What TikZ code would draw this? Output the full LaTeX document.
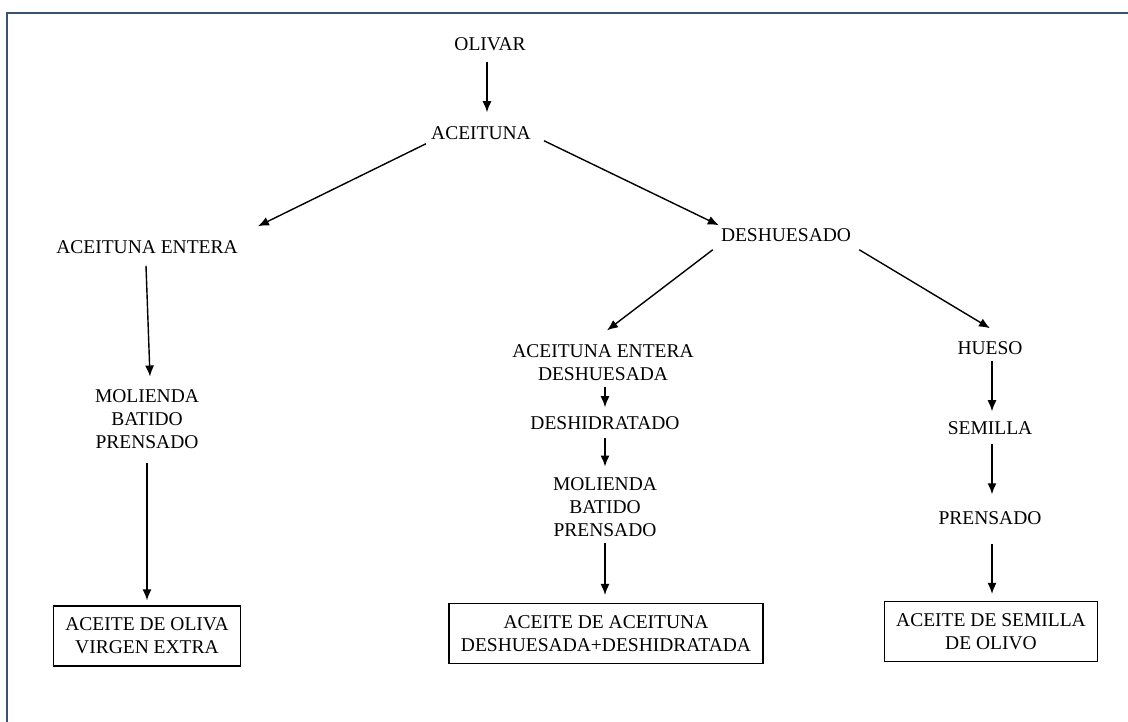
\documentclass[tikz,border=0pt]{standalone}
\usepackage{fontspec}
\setmainfont{Liberation Serif}
\usepackage{tikz}
\usetikzlibrary{calc,arrows.meta}
\definecolor{framecol}{HTML}{3C5070}

\begin{document}
\begin{tikzpicture}[x=1pt,y=-1pt,
    txt/.style={inner sep=0pt,align=center,font=\fontsize{19.5}{22.7}\selectfont},
    oilbox/.style={txt,draw,line width=1.3pt,inner xsep=12pt,inner ysep=12pt},
    arr/.style={line width=1.4pt,-{Latex[length=11pt,width=9pt]}}]
                      \useasboundingbox(0,0)rectangle(1128,722);
                      \draw[framecol,line width=2.8pt](7,722)--(7,13)--(1128,13);
                      % top
                      \node[txt](olivar)at(490,44){OLIVAR};
                      \node[txt](aceituna)at(481,133){ACEITUNA};
                      \node[txt](entera)at(147,247){ACEITUNA ENTERA};
                      \node[txt](deshuesado)at(786,235){DESHUESADO};
                      % left column
                      \node[txt](molA)at(147,419){MOLIENDA\\BATIDO\\PRENSADO};
                      \node[oilbox](virgen)at(147,636){ACEITE DE OLIVA\\VIRGEN EXTRA};
                      % middle column
                      \node[txt](enteradesh)at(603,362.5){ACEITUNA ENTERA\\DESHUESADA};
                      \node[txt](deshidratado)at(605,423){DESHIDRATADO};
                      \node[txt](molB)at(605,507){MOLIENDA\\BATIDO\\PRENSADO};
                      \node[oilbox](desh)at(606,633.5){ACEITE DE ACEITUNA\\DESHUESADA+DESHIDRATADA};
                      % right column
                      \node[txt](hueso)at(990,348){HUESO};
                      \node[txt](semilla)at(990,428){SEMILLA};
                      \node[txt](prensado)at(990,518){PRENSADO};
                      \node[oilbox](orujo)at(991,631.5){ACEITE DE SEMILLA\\DE OLIVO};
                      % arrows
                      \draw[arr]($(olivar.south)+(-3,11)$)--($(aceituna.north)+(6,-14)$);
                      \draw[arr]($(aceituna.south west)+(-5,4)$)--($(entera.north east)+(20,-14)$);
                      \draw[arr]($(aceituna.south east)+(13,1)$)--($(deshuesado.north west)+(-2,-3)$);
                      \draw[arr]($(deshuesado.south west)+(-8,8)$)--($(enteradesh.north)+(4,-14)$);
                      \draw[arr]($(deshuesado.south east)+(8,8)$)--($(hueso.north)+(0,-13)$);
                      \draw[arr]($(entera.south)+(-1,12)$)--($(molA.north)+(3,-13)$);
                      \draw[arr]($(molA.south)+(0,15)$)--($(virgen.north)+(0,-5)$);
                      \draw[arr]($(enteradesh.south)+(2,6)$)--($(deshidratado.north)+(0,-9)$);
                      \draw[arr]($(deshidratado.south)+(0,8)$)--($(molB.north)+(0,-11)$);
                      \draw[arr]($(molB.south)+(0,7)$)--($(desh.north)+(-1,-8)$);
                      \draw[arr]($(hueso.south)+(2,6)$)--($(semilla.north)+(2,-10)$);
                      \draw[arr]($(semilla.south)+(2,9)$)--($(prensado.north)+(2,-17)$);
                      \draw[arr]($(prensado.south)+(2,19)$)--($(orujo.north)+(1,-7)$);
                  \end{tikzpicture}
\end{document}
